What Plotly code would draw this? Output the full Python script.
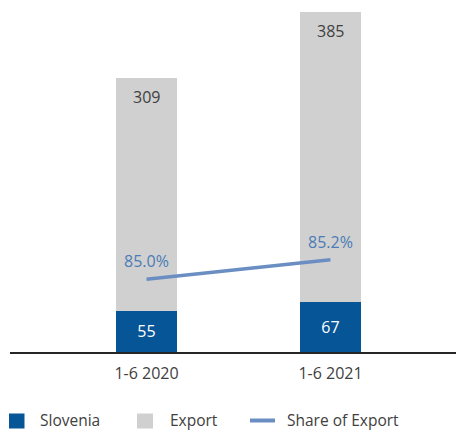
import plotly.graph_objects as go

categories = ["1-6 2020", "1-6 2021"]
slovenia = [55, 67]
export = [309, 385]
share_of_export = [85.0, 85.2]
share_labels = ["85.0%", "85.2%"]
series_names = ["Slovenia", "Export", "Share of Export"]

FONT = "Open Sans"
TXT = "#404040"
C_SLO = "#065597"
C_EXP = "#d0d0d0"
C_LINE = "#6a8ec2"
totals = [s + e for s, e in zip(slovenia, export)]

# page body has an 8px default margin, so the figure is 456x422 placed at (8, 8)
W, H = 456, 422
PLOT_H = 344  # plot area height in px (baseline at y=344 of the figure)

fig = go.Figure()
fig.add_trace(go.Bar(
    name=series_names[0], x=categories, y=slovenia, marker_color=C_SLO,
    marker_line_width=0, width=0.33, showlegend=False,
    text=[str(v) for v in slovenia], textposition="inside", insidetextanchor="middle",
    textfont=dict(color="white", size=16, family=FONT),
))
fig.add_trace(go.Bar(
    name=series_names[1], x=categories, y=export, marker_color=C_EXP,
    marker_line_width=0, width=0.33, showlegend=False,
))
fig.add_trace(go.Scatter(
    name=series_names[2], x=categories, y=share_of_export, yaxis="y2",
    mode="lines", line=dict(color=C_LINE, width=3.5), showlegend=False,
))

for c, t, e in zip(categories, totals, export):
    fig.add_annotation(x=c, y=t, yref="y", text=str(e), showarrow=False,
                       yshift=-19, font=dict(color=TXT, size=16, family=FONT))
for c, v, lab in zip(categories, share_of_export, share_labels):
    fig.add_annotation(x=c, y=v, yref="y2", text=lab, showarrow=False,
                       yshift=18, font=dict(color="#4b7cb6", size=16, family=FONT))

# custom legend below the plot (paper coordinates)
def px_x(x):
    return x / W

def px_y(y):
    return (PLOT_H - y) / PLOT_H

fig.add_shape(type="rect", xref="paper", yref="paper",
              x0=px_x(1), x1=px_x(16.5), y0=px_y(420.5), y1=px_y(405.5),
              fillcolor=C_SLO, line_width=0)
fig.add_shape(type="rect", xref="paper", yref="paper",
              x0=px_x(129), x1=px_x(145), y0=px_y(420.5), y1=px_y(405.5),
              fillcolor=C_EXP, line_width=0)
fig.add_shape(type="line", xref="paper", yref="paper",
              x0=px_x(242), x1=px_x(267), y0=px_y(412.5), y1=px_y(412.5),
              line=dict(color=C_LINE, width=4))
for name, lx in zip(series_names, [29.5, 159.5, 276.5]):
    fig.add_annotation(xref="paper", yref="paper", x=px_x(lx), y=px_y(411.5),
                       xanchor="left", yanchor="middle", text=name, showarrow=False,
                       font=dict(color=TXT, size=15.5, family=FONT))

fig.update_layout(
    width=W, height=H,
    margin=dict(l=0, r=0, t=0, b=H - PLOT_H, pad=0),
    barmode="stack",
    showlegend=False,
    plot_bgcolor="white", paper_bgcolor="white",
    font=dict(family=FONT, color=TXT, size=15),
    xaxis=dict(
        domain=[2 / W, 454 / W],
        range=[-0.742, 1.715], showgrid=False, showline=True,
        linecolor="#262626", linewidth=2, ticks="",
        ticklabelstandoff=6,
        tickfont=dict(size=16, color=TXT, family=FONT),
    ),
    yaxis=dict(range=[0, 457.1], visible=False, showgrid=False),
    yaxis2=dict(range=[84.258, 87.768], overlaying="y", visible=False, showgrid=False),
)

fig.write_html("out.html")
